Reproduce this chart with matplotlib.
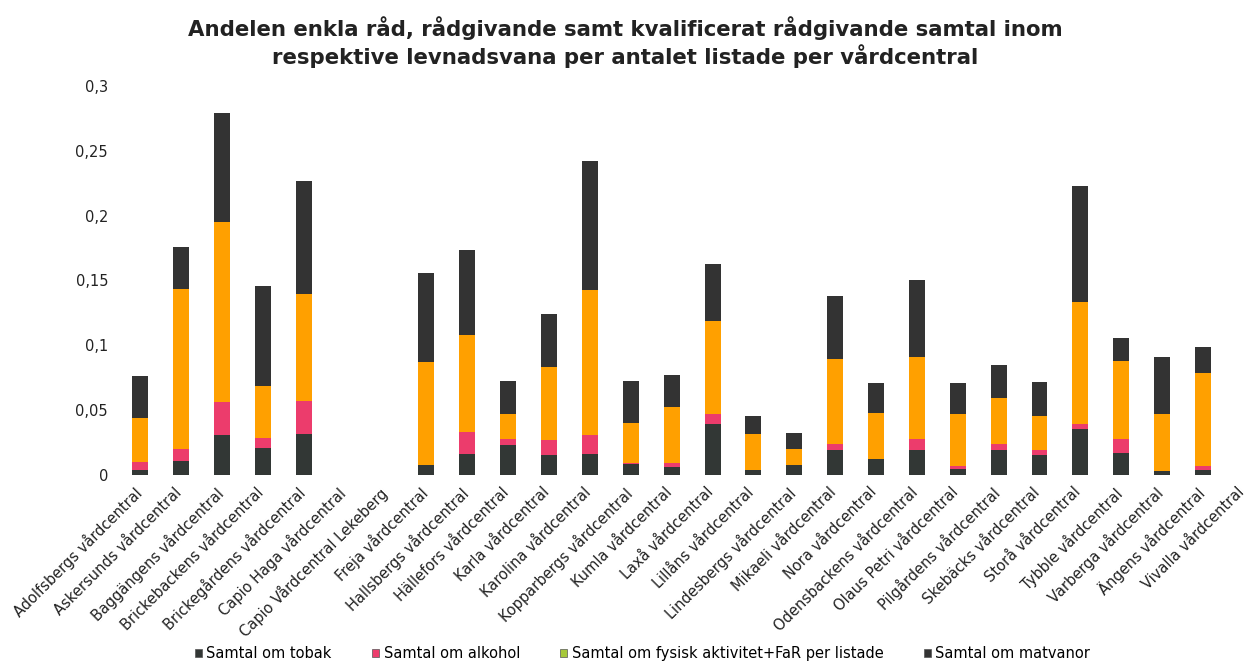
import matplotlib
matplotlib.use("Agg")
import matplotlib.pyplot as plt
import matplotlib.transforms as mtransforms
from matplotlib.patches import Patch
from matplotlib.ticker import FuncFormatter
import numpy as np

plt.rcParams['font.family'] = ['DejaVu Sans']

vardcentraler = [
    "Adolfsbergs vårdcentral", "Askersunds vårdcentral", "Baggängens vårdcentral",
    "Brickebackens vårdcentral", "Brickegårdens vårdcentral", "Capio Haga vårdcentral",
    "Capio Vårdcentral Lekeberg", "Freja vårdcentral", "Hallsbergs vårdcentral",
    "Hällefors vårdcentral", "Karla vårdcentral", "Karolina vårdcentral",
    "Kopparbergs vårdcentral", "Kumla vårdcentral", "Laxå vårdcentral",
    "Lillåns vårdcentral", "Lindesbergs vårdcentral", "Mikaeli vårdcentral",
    "Nora vårdcentral", "Odensbackens vårdcentral", "Olaus Petri vårdcentral",
    "Pilgårdens vårdcentral", "Skebäcks vårdcentral", "Storå vårdcentral",
    "Tybble vårdcentral", "Varberga vårdcentral", "Ängens vårdcentral",
    "Vivalla vårdcentral",
]

tobak = [0.004, 0.011, 0.031, 0.0206, 0.0316, 0, 0, 0.0074, 0.016, 0.023,
         0.0154, 0.016, 0.008, 0.0064, 0.0393, 0.004, 0.0077, 0.019, 0.012,
         0.019, 0.0044, 0.019, 0.0154, 0.035, 0.0167, 0.0026, 0.004, 0]
alkohol = [0.006, 0.009, 0.025, 0.0077, 0.0254, 0, 0, 0.0, 0.017, 0.005,
           0.0116, 0.0146, 0.001, 0.0026, 0.0075, 0.0, 0.0, 0.0046, 0.0,
           0.009, 0.0025, 0.0046, 0.004, 0.004, 0.0108, 0.0, 0.003, 0]
fysisk = [0.034, 0.123, 0.139, 0.040, 0.0823, 0, 0, 0.080, 0.075, 0.019,
          0.0565, 0.112, 0.031, 0.0437, 0.072, 0.0277, 0.0123, 0.066, 0.036,
          0.063, 0.040, 0.036, 0.0257, 0.0943, 0.0604, 0.0442, 0.0715, 0]
matvanor = [0.032, 0.0325, 0.084, 0.077, 0.0874, 0, 0, 0.068, 0.0655, 0.0256,
            0.0404, 0.0998, 0.0327, 0.0244, 0.0442, 0.014, 0.012, 0.048, 0.0227,
            0.059, 0.0239, 0.0254, 0.0262, 0.0895, 0.0175, 0.0444, 0.0198, 0]

serier = ["Samtal om tobak", "Samtal om alkohol",
          "Samtal om fysisk aktivitet+FaR per listade", "Samtal om matvanor"]
farger = ["#323735", "#ec3c6c", "#ffa000", "#333333"]
legend_farger = ["#323735", "#ec3c6c", "#a6c83a", "#333333"]

fig = plt.figure(figsize=(12.5, 6.66), dpi=100)
ax = fig.add_axes([0.092, 0.287, 0.908, 0.584])

x = np.arange(len(vardcentraler))
bottom = np.zeros(len(x))
for varden, farg in zip([tobak, alkohol, fysisk, matvanor], farger):
    ax.bar(x, varden, width=0.39, bottom=bottom, color=farg, linewidth=0)
    bottom += np.array(varden)

ax.set_xlim(-0.62, 27.15)
ax.set_ylim(0, 0.3)
ax.set_yticks([0, 0.05, 0.1, 0.15, 0.2, 0.25, 0.3])
ax.yaxis.set_major_formatter(FuncFormatter(lambda v, p: f"{v:g}".replace(".", ",")))
ax.set_xticks(x)
ax.set_xticklabels(vardcentraler, rotation=45, ha="right",
                   rotation_mode="anchor", fontsize=10.5, color="#222222")
ax.tick_params(axis="both", length=0, labelsize=10.5, colors="#222222")
ax.tick_params(axis="y", pad=5)
ax.tick_params(axis="x", pad=7)
for s in ax.spines.values():
    s.set_visible(False)

# nudge the slanted labels so their ends sit under the bar centres
skift = mtransforms.ScaledTranslation(-7 / 100, 0, fig.dpi_scale_trans)
for etikett in ax.get_xticklabels():
    etikett.set_transform(etikett.get_transform() + skift)

fig.text(0.5, 0.937, "Andelen enkla råd, rådgivande samt kvalificerat rådgivande samtal inom\n"
         "respektive levnadsvana per antalet listade per vårdcentral",
         ha="center", va="center", fontsize=15.3, fontweight="bold",
         color="#222222", linespacing=1.2)

handles = [Patch(facecolor=c, edgecolor="#555555", linewidth=0.5) for c in legend_farger]
fig.legend(handles, serier, loc="lower center", bbox_to_anchor=(0.514, -0.012),
           ncol=4, frameon=False, fontsize=10.5, handlelength=0.5, handleheight=0.5,
           handletextpad=0.3, columnspacing=2.75)

fig.savefig("out.png", dpi=100, facecolor="white")
